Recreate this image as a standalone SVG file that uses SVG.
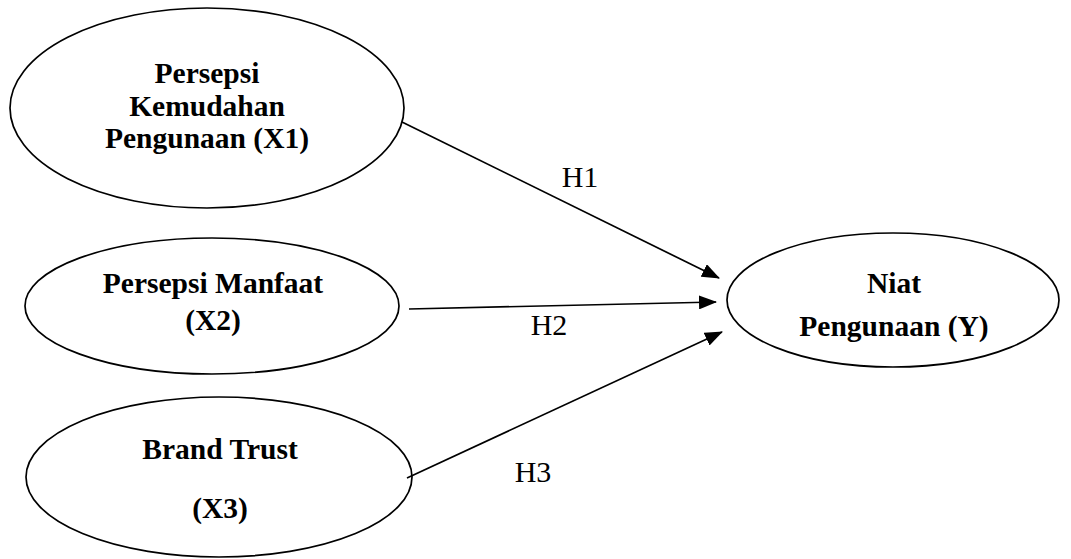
<svg xmlns="http://www.w3.org/2000/svg" width="1071" height="559" viewBox="0 0 1071 559">
<style>
.node ellipse{fill:#fff;stroke:#000;stroke-width:1.7}
.lbl{font-family:"Liberation Serif","Times New Roman",serif;font-weight:bold;font-size:29.5px;fill:#000;text-anchor:middle}
.h{font-family:"Liberation Serif","Times New Roman",serif;font-size:30px;fill:#000;text-anchor:middle}
.conn line{stroke:#000;stroke-width:1.7}
</style>
<defs>
<marker id="ah" markerUnits="userSpaceOnUse" markerWidth="18" markerHeight="14" refX="17" refY="7" orient="auto">
<path d="M0,0 L18,7 L0,14 Z" fill="#000"/>
</marker>
</defs>
<rect width="1071" height="559" fill="#fff"/>
<g id="x1" class="node">
<ellipse cx="207" cy="108" rx="197" ry="100"/>
<text class="lbl" x="207" y="83">Persepsi</text>
<text class="lbl" x="207" y="116">Kemudahan</text>
<text class="lbl" x="207" y="148">Pengunaan (X1)</text>
</g>
<g id="x2" class="node">
<ellipse cx="212" cy="306" rx="187" ry="68"/>
<text class="lbl" x="213" y="293">Persepsi Manfaat</text>
<text class="lbl" x="213" y="330">(X2)</text>
</g>
<g id="x3" class="node">
<ellipse cx="219" cy="477" rx="193" ry="80"/>
<text class="lbl" x="220" y="459">Brand Trust</text>
<text class="lbl" x="220" y="518">(X3)</text>
</g>
<g id="y" class="node">
<ellipse cx="893" cy="300" rx="166" ry="67"/>
<text class="lbl" x="894" y="293">Niat</text>
<text class="lbl" x="894" y="336">Pengunaan (Y)</text>
</g>
<g id="connectors" class="conn">
<line x1="402" y1="122" x2="719" y2="278" marker-end="url(#ah)"/>
<line x1="409" y1="309" x2="716" y2="302" marker-end="url(#ah)"/>
<line x1="407" y1="478" x2="722" y2="332" marker-end="url(#ah)"/>
<text class="h" x="580" y="187">H1</text>
<text class="h" x="549" y="335">H2</text>
<text class="h" x="533" y="482">H3</text>
</g>
</svg>
